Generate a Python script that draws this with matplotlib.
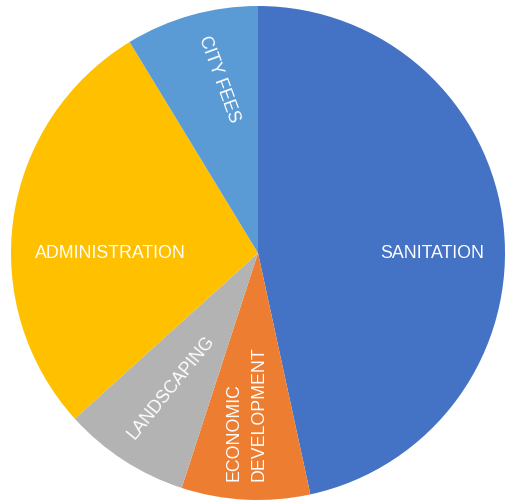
import matplotlib.pyplot as plt

# ----------------------------
# Data
# ----------------------------
categories = ["SANITATION", "ECONOMIC\nDEVELOPMENT", "LANDSCAPING", "ADMINISTRATION", "CITY FEES"]
shares = [46.6, 8.4, 8.3, 28.0, 8.7]
colors = ["#4472C4", "#ED7D31", "#B3B3B3", "#FFC000", "#5B9BD5"]

# label placement (pie units) and rotation
label_xy = [(0.707, 0.0), (-0.045, -0.65), (-0.352, -0.545), (-0.597, 0.0), (-0.158, 0.704)]
label_rot = [0, 90, 51, 0, -70]

# ----------------------------
# Figure
# ----------------------------
fig = plt.figure(figsize=(5.05, 5.0), dpi=100)
ax = fig.add_axes([11 / 505, 0.0, 494 / 505, 494 / 500])

ax.pie(shares, colors=colors, startangle=90, counterclock=False, radius=1,
       wedgeprops={"linewidth": 0})

for name, (x, y), rot in zip(categories, label_xy, label_rot):
    ax.text(x, y, name, ha="center", va="center", rotation=rot,
            rotation_mode="anchor", color="white", fontsize=12.8,
            family="Liberation Sans", linespacing=1.6, multialignment="left")

ax.set_xlim(-1, 1)
ax.set_ylim(-1, 1)
ax.set_aspect("equal")
ax.axis("off")

fig.savefig("out.png", dpi=100)
